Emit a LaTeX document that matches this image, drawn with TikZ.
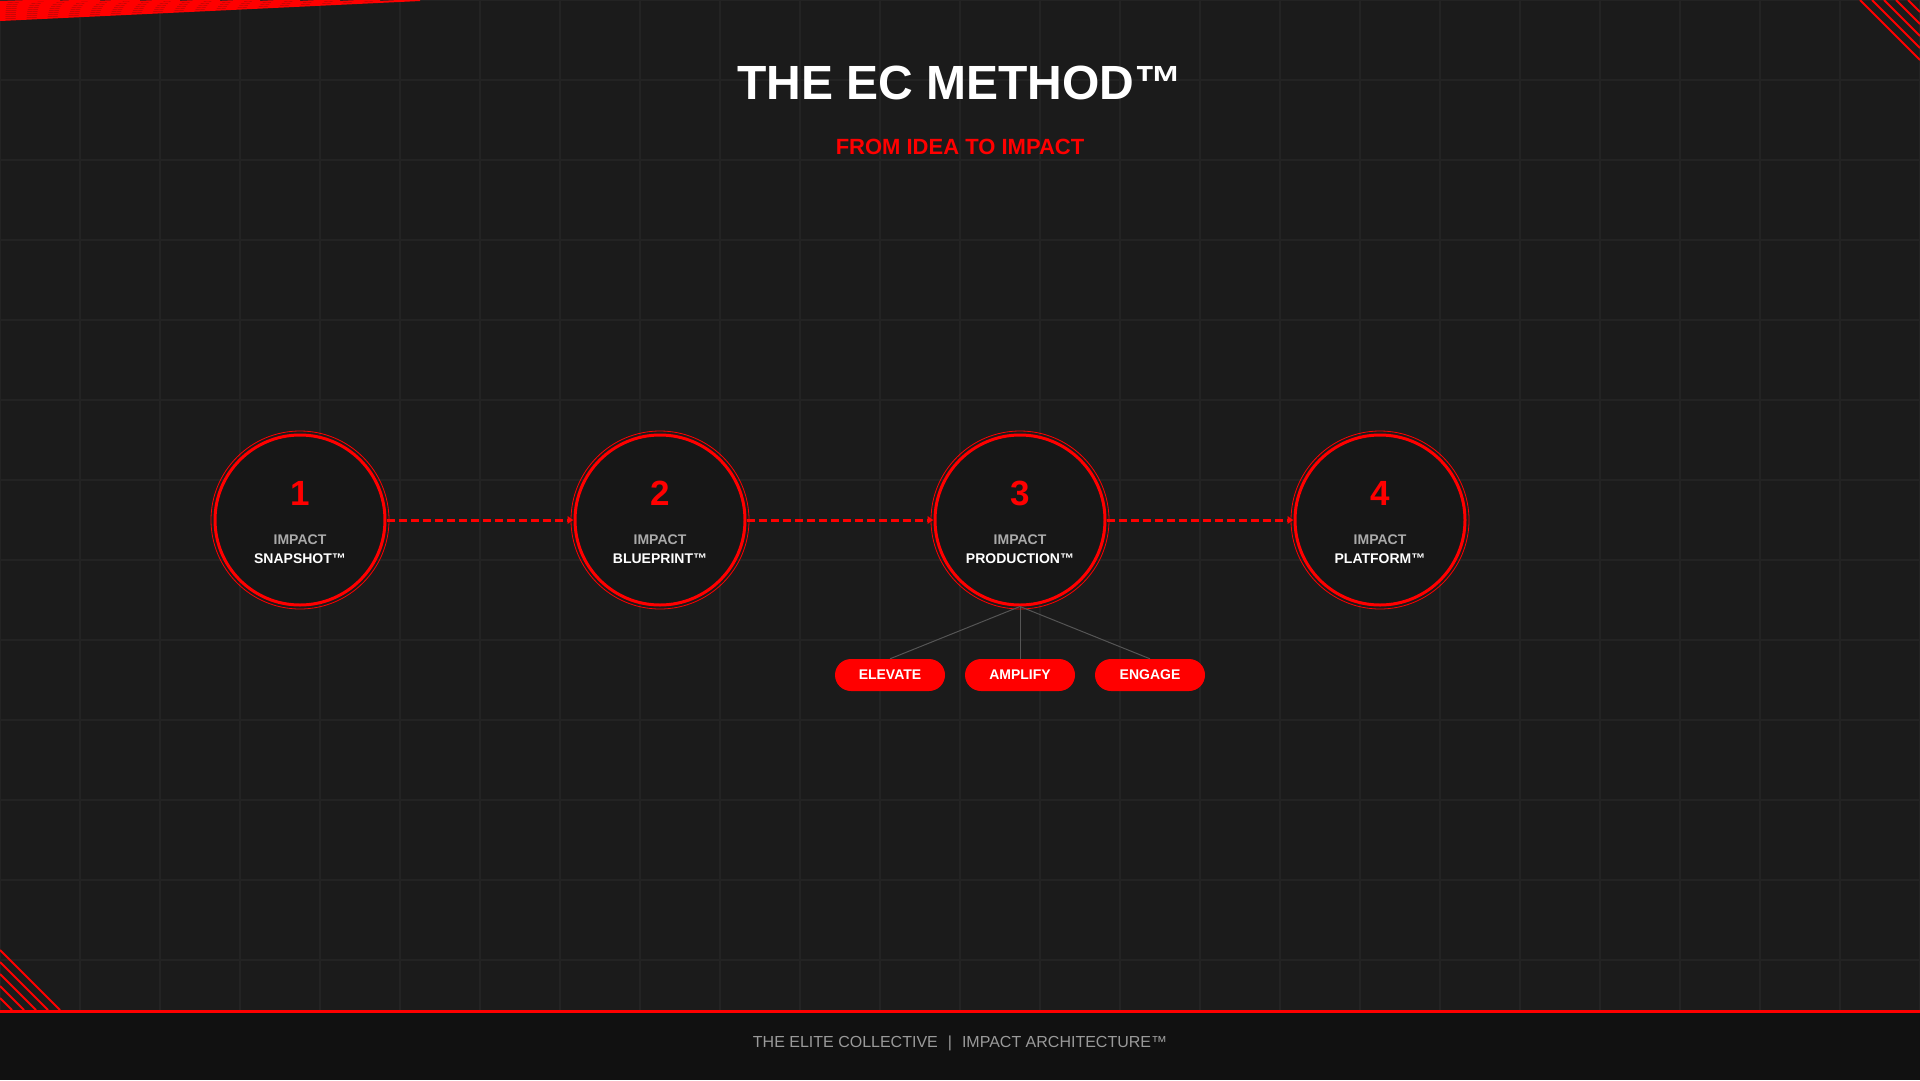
\documentclass[tikz,border=0pt]{standalone}
\usepackage{fontspec}
\setmainfont{Liberation Sans}
\usetikzlibrary{positioning,arrows.meta}
\definecolor{ecred}{HTML}{FF0000}
\definecolor{bgdark}{HTML}{1B1B1B}
\definecolor{gridgray}{HTML}{232323}
\definecolor{stagefill}{HTML}{171717}
\definecolor{footdark}{HTML}{111111}
\definecolor{impactgray}{HTML}{AAAAAA}
\definecolor{footgray}{HTML}{9A9A9A}
\definecolor{linkgray}{HTML}{555555}
\tikzset{gridline/.style={draw=gridgray, line width=2pt}}
\tikzset{cornerline/.style={draw=ecred, line width=2pt}}
\tikzset{titletext/.style={text=white, font=\bfseries\fontsize{48}{54}\selectfont}}
\tikzset{subtext/.style={text=ecred, font=\bfseries\fontsize{22}{26}\selectfont}}
\tikzset{stagecirc/.style={circle, draw=ecred, line width=3pt, fill=stagefill, minimum size=170pt, inner sep=0pt}}
\tikzset{stagering/.style={draw=ecred, line width=0.8pt}}
\tikzset{stagenum/.style={text=ecred, inner sep=0pt, font=\bfseries\fontsize{35}{40}\selectfont}}
\tikzset{stagetop/.style={text=impactgray, inner sep=0pt, font=\bfseries\fontsize{14}{16}\selectfont}}
\tikzset{stagename/.style={text=white, inner sep=0pt, font=\bfseries\fontsize{14}{16}\selectfont}}
\tikzset{dasharr/.style={draw=ecred, line width=3pt, dash pattern=on 8pt off 4pt, -{Latex[length=6pt,width=9pt]}}}
\tikzset{pill/.style={fill=ecred, rounded corners=16pt, minimum width=110pt, minimum height=32pt, inner sep=0pt, text=white, font=\bfseries\fontsize{14}{16}\selectfont}}
\tikzset{sublink/.style={draw=linkgray, line width=1pt}}
\tikzset{foottext/.style={text=footgray, font=\fontsize{16}{20}\selectfont}}
\newcommand\ecstage[4]{
		\node[stagecirc] (#1) at (#2,520) {};
		\draw[stagering] (#1.center) circle[radius=89pt];
		\node[stagenum] (#1num) at ([yshift=27pt]#1.center) {#3};
		\node[stagetop] (#1top) at ([yshift=-20pt]#1.center) {IMPACT};
		\node[stagename] (#1name) at ([yshift=-39pt]#1.center) {#4};
		}

\begin{document}
\begin{tikzpicture}[x=1pt, y=-1pt]
		\useasboundingbox (0,0) rectangle (1920,1080);
		\fill[bgdark] (0,0) rectangle (1920,1080);
		\foreach \gx in {0,80,...,1920} \draw[gridline] (\gx,0) -- (\gx,1010);
		\foreach \gy in {0,80,...,960} \draw[gridline] (0,\gy) -- (1920,\gy);
		% corner strokes
		\foreach \k in {0,...,4} {
			\draw[cornerline] (1860+12*\k,0) -- (1920,60-12*\k);
			\draw[cornerline] (0,950+12*\k) -- (60-12*\k,1010);
		}
		\foreach \k in {0,...,9} \draw[cornerline] (0,20-2*\k) -- (420-40*\k,0);
		% footer
		\fill[footdark] (0,1012) rectangle (1920,1080);
		\draw[ecred, line width=3pt] (0,1011) -- (1920,1011);
		\node[foottext] (footer) at (960,1043) {THE ELITE COLLECTIVE\hspace{10pt}|\hspace{10pt}IMPACT ARCHITECTURE™};

		\node[titletext] (title) at (960,83) {THE EC METHOD™};
		\node[subtext] (subtitle) at (960,147) {FROM IDEA TO IMPACT};

		\ecstage{snap}{300}{1}{SNAPSHOT™}
		\ecstage{blue}{660}{2}{BLUEPRINT™}
		\ecstage{prod}{1020}{3}{PRODUCTION™}
		\ecstage{plat}{1380}{4}{PLATFORM™}
		\draw[dasharr] (snap) -- (blue);
		\draw[dasharr] (blue) -- (prod);
		\draw[dasharr] (prod) -- (plat);

		\node[pill] (elevate) at (890,675) {ELEVATE};
		\node[pill] (amplify) at (1020,675) {AMPLIFY};
		\node[pill] (engage) at (1150,675) {ENGAGE};
		\draw[sublink] (prod.south) -- (elevate.north);
		\draw[sublink] (prod.south) -- (amplify.north);
		\draw[sublink] (prod.south) -- (engage.north);
	\end{tikzpicture}
\end{document}
